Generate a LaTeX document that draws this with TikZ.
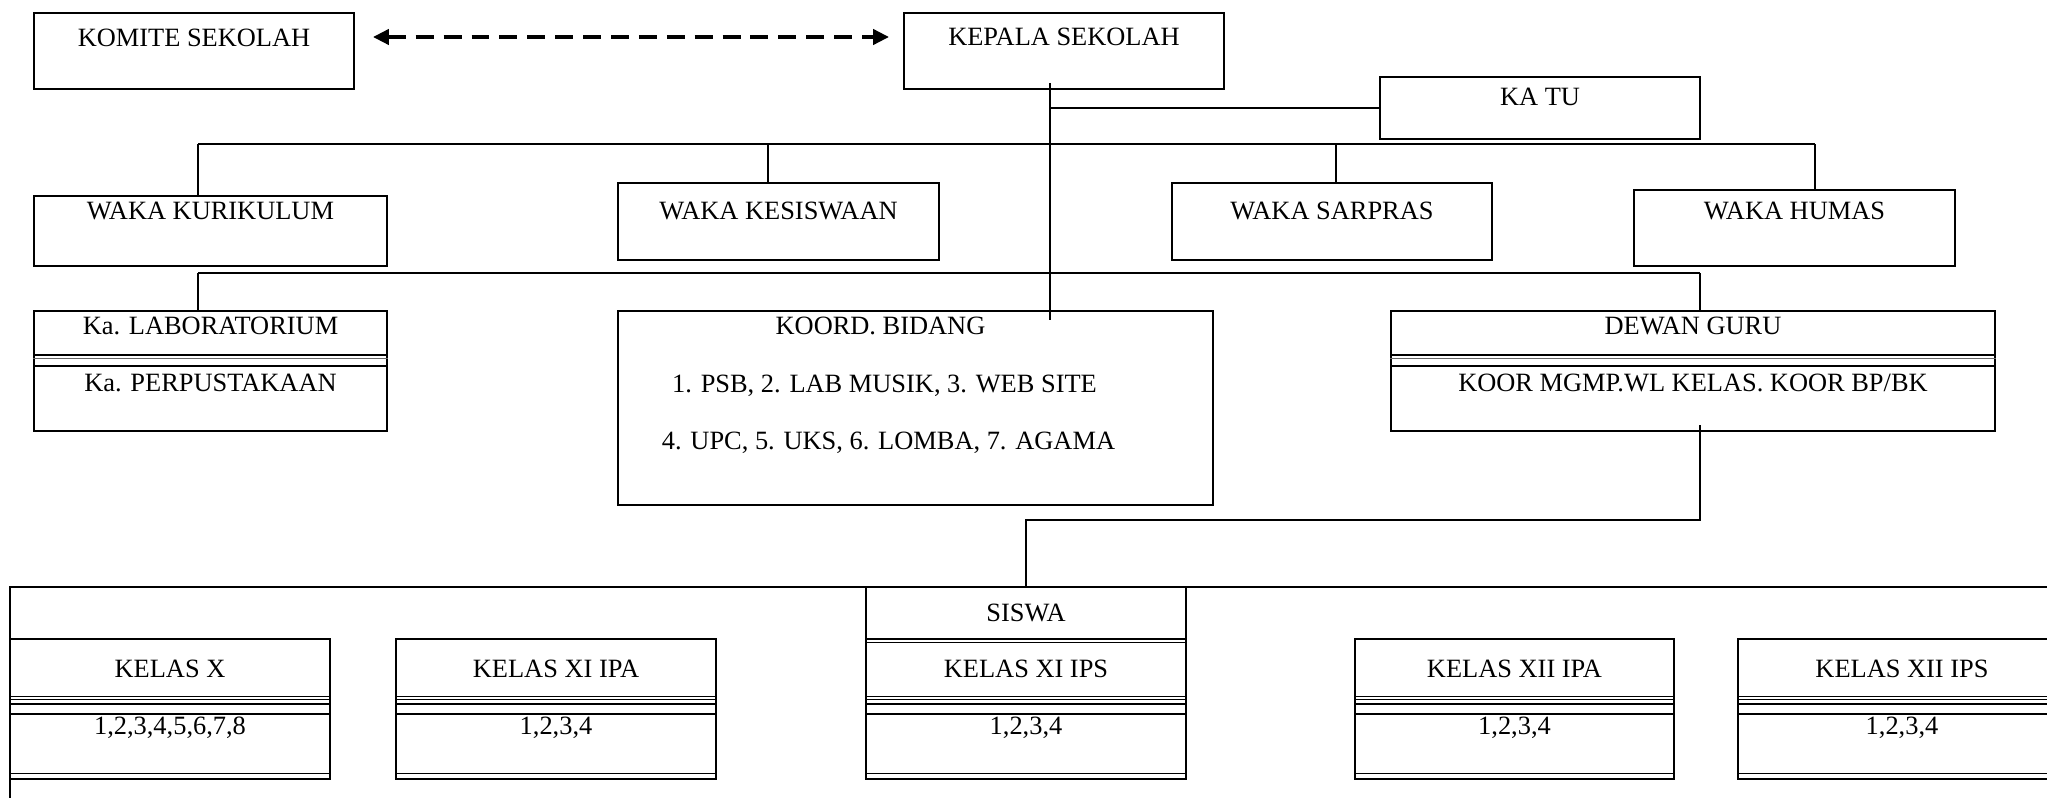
\documentclass[tikz,border=0pt]{standalone}
\usepackage{fontspec}
\setmainfont{Liberation Serif}
\usetikzlibrary{arrows.meta,positioning,fit}

\begin{document}
\begin{tikzpicture}[
    x=1bp, y=-1bp,
    box/.style={draw=black, line width=1.8pt, inner sep=0pt},
    lbl/.style={anchor=base, inner sep=0pt, font=\fontsize{26.5}{32}\selectfont},
    wire/.style={draw=black, line width=1.6pt},
    sep/.style={line width=1.6pt},
    thinsep/.style={line width=0.9pt},
    dasharrow/.style={line width=4.5pt, dash pattern=on 18pt off 10pt,
        {Triangle[length=16pt,width=15pt]}-{Triangle[length=16pt,width=15pt]}}
]
\useasboundingbox (0,0) rectangle (2047,798);
\clip (0,0) rectangle (2047,798);

% Pimpinan
\node[box, fit={(34,13) (354,89)}] (komite) {};
\node[box, fit={(904,13) (1224,89)}] (kepala) {};
\node[box, fit={(1380,77) (1700,139)}] (katu) {};
\node[lbl] (komiteT) at (komite.north |- 0,47) {KOMITE SEKOLAH};
\node[lbl] (kepalaT) at (kepala.north |- 0,46) {KEPALA SEKOLAH};
\node[lbl] (katuT) at (katu.north |- 0,105) {KA TU};

\draw[dasharrow] ([xshift=18bp,yshift=14bp]komite.east) -- ([xshift=-14bp,yshift=14bp]kepala.west);

% Wakil kepala
\node[box, fit={(34,196) (387,266)}] (kurikulum) {};
\node[box, fit={(618,183) (939,260)}] (kesiswaan) {};
\node[box, fit={(1172,183) (1492,260)}] (sarpras) {};
\node[box, fit={(1634,190) (1955,266)}] (humas) {};
\node[lbl] (kurikulumT) at (kurikulum.north |- 0,219) {WAKA KURIKULUM};
\node[lbl] (kesiswaanT) at (kesiswaan.north |- 0,219) {WAKA KESISWAAN};
\node[lbl] (sarprasT) at (sarpras.north |- 0,219) {WAKA SARPRAS};
\node[lbl] (humasT) at (humas.north |- 0,219) {WAKA HUMAS};

% Koordinator
\node[box, fit={(34,311) (387,431)}] (lab) {};
\node[box, fit={(618,311) (1213,505)}] (koord) {};
\node[box, fit={(1391,311) (1995,431)}] (dewan) {};
\foreach \n in {lab,dewan}{
    \draw[sep] (\n.west |- 0,355) -- (\n.east |- 0,355);
    \draw[thinsep, black!60] (\n.west |- 0,358) -- (\n.east |- 0,358);
    \draw[sep] (\n.west |- 0,366) -- (\n.east |- 0,366);
}
\node[lbl] (labT) at (lab.north |- 0,334) {Ka. LABORATORIUM};
\node[lbl] (pustakaT) at (lab.north |- 0,391) {Ka. PERPUSTAKAAN};
\node[lbl, xshift=-35bp] (koordT) at (koord.north |- 0,334) {KOORD. BIDANG};
\node[lbl, xshift=-31bp] (koordA) at (koord.north |- 0,392) {1. PSB, 2. LAB MUSIK, 3. WEB SITE};
\node[lbl, xshift=-27bp] (koordB) at (koord.north |- 0,449) {4. UPC, 5. UKS, 6. LOMBA, 7. AGAMA};
\node[lbl] (dewanT) at (dewan.north |- 0,334) {DEWAN GURU};
\node[lbl] (dewanA) at (dewan.north |- 0,391) {KOOR MGMP.WL KELAS. KOOR BP/BK};

% Siswa
\node[box, fit={(10,587) (2100,850)}] (frame) {};
\node[box, fit={(866,587) (1186,639)}] (siswa) {};
\draw[thinsep] (siswa.west |- 0,642) -- (siswa.east |- 0,642);
\node[lbl] (siswaT) at (siswa.north |- 0,621) {SISWA};
\foreach \n/\xa/\xb/\kls/\nr in {
    kelasX/10/330/{KELAS X}/{1,2,3,4,5,6,7,8},
    kelasXIipa/396/716/{KELAS XI IPA}/{1,2,3,4},
    kelasXIips/866/1186/{KELAS XI IPS}/{1,2,3,4},
    kelasXIIipa/1355/1674/{KELAS XII IPA}/{1,2,3,4},
    kelasXIIips/1738/2066/{KELAS XII IPS}/{1,2,3,4}}{
    \node[box, fit={(\xa,639) (\xb,779)}] (\n) {};
    \foreach \y in {696,699,773} \draw[thinsep] (\xa,\y) -- (\xb,\y);
    \draw[sep] (\xa,704) -- (\xb,704);
    \draw[line width=2pt] (\xa,714) -- (\xb,714);
    \node[lbl] (\n-t) at (\n.north |- 0,677) {\kls};
    \node[lbl] (\n-n) at (\n.north |- 0,734) {\nr};
}

% Garis
\coordinate (trunkTop) at (1050,83);
\coordinate (trunkEnd) at (1050,320);
\coordinate (busA) at (198,144);
\coordinate (busB) at (1815,144);
\coordinate (busC) at (198,273);
\coordinate (busD) at (1700,273);
\coordinate (guruDrop) at (1700,425);
\draw[wire] (trunkTop) -- (trunkEnd);
\draw[wire] (trunkTop |- katu.west) -- (katu.west);
\draw[wire] (busA) -- (busB);
\foreach \x/\n in {198/kurikulum,768/kesiswaan,1336/sarpras,1815/humas}
    \draw[wire] (\x,144) -- (\n.north -| \x,0);
\draw[wire] (busC) -- (busD);
\draw[wire] (busC) -- (lab.north -| busC);
\draw[wire] (busD) -- (dewan.north -| busD);
\draw[wire] (guruDrop) |- (siswa.north |- 0,520) -- (siswa.north);

\end{tikzpicture}
\end{document}
